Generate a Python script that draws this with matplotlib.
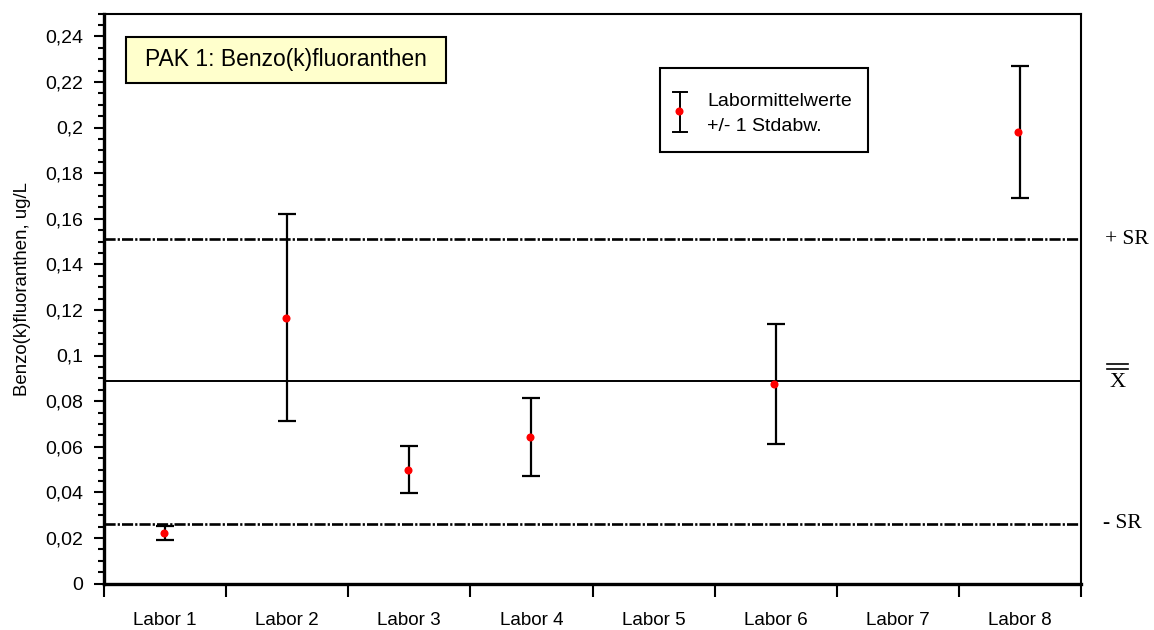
import numpy as np
import matplotlib
matplotlib.use("Agg")
import matplotlib.pyplot as plt
from matplotlib.ticker import MultipleLocator, FixedLocator, FuncFormatter, NullFormatter
from matplotlib.patches import Rectangle
from matplotlib.transforms import blended_transform_factory

plt.rcParams['font.family'] = ['Liberation Sans', 'DejaVu Sans']
plt.rcParams['lines.scale_dashes'] = False

# Laboratory means and standard deviations (ug/L); Labor 5 and 7 reported no value
labs = ["Labor 1", "Labor 2", "Labor 3", "Labor 4", "Labor 5", "Labor 6", "Labor 7", "Labor 8"]
lab_means = [0.0221, 0.1166, 0.0500, 0.0643, np.nan, 0.0876, np.nan, 0.1980]
lab_sd = [0.0030, 0.0453, 0.0101, 0.0172, np.nan, 0.0263, np.nan, 0.0290]

# Overall mean and reproducibility limits
grand_mean = 0.0889
sr_upper = 0.1510
sr_lower = 0.0262

title_text = "PAK 1: Benzo(k)fluoranthen"
y_label = "Benzo(k)fluoranthen, ug/L"

W, H = 1154, 630
fig = plt.figure(figsize=(W / 100, H / 100), dpi=100)
ax = fig.add_axes([104 / W, 46.5 / H, 977 / W, 570 / H])

x = np.arange(len(labs))
ax.set_xlim(-0.5, len(labs) - 0.5)
ax.set_ylim(0, 0.25)

# Reference lines
ax.axhline(grand_mean, color='black', lw=1.4, zorder=2)
dash = (0, (8, 1.5, 1.6, 1.5))
ax.axhline(sr_upper, color='black', lw=1.9, linestyle=dash, zorder=2)
ax.axhline(sr_lower, color='black', lw=1.9, linestyle=dash, zorder=2)

# Laboratory means with +/- 1 SD
ax.errorbar(x, lab_means, yerr=lab_sd, fmt='none', ecolor='black', elinewidth=1.6,
            capsize=6.5, capthick=1.6, zorder=3)
ax.plot(x - 0.012, lab_means, 'o', color='red', markersize=5.8, markeredgewidth=0, zorder=4)

# Axes styling
for side in ['left', 'bottom']:
    ax.spines[side].set_linewidth(2.4)
for side in ['top', 'right']:
    ax.spines[side].set_linewidth(1.5)

ax.yaxis.set_major_locator(FixedLocator(np.round(np.arange(0, 0.2401, 0.02), 2)))
ax.yaxis.set_minor_locator(MultipleLocator(0.005))
ax.yaxis.set_major_formatter(FuncFormatter(lambda v, p: f"{round(v, 2):g}".replace('.', ',')))
ax.tick_params(axis='y', which='major', length=7, width=1.5, labelsize=14, pad=8, direction='out')
ax.tick_params(axis='y', which='minor', length=4, width=1.5, direction='out')

ax.xaxis.set_major_locator(FixedLocator(np.arange(-0.5, len(labs), 1.0)))
ax.xaxis.set_major_formatter(NullFormatter())
ax.xaxis.set_minor_locator(FixedLocator(x))
ax.set_xticks(x, labs, minor=True)
ax.tick_params(axis='x', which='major', length=9, width=1.5, direction='out')
ax.tick_params(axis='x', which='minor', length=0, labelsize=13.6, pad=20.5)

ax.set_ylabel(y_label, fontsize=13.4)
ax.yaxis.set_label_coords(-0.0747, 0.517)

# Right-hand labels for the reference lines
bt = blended_transform_factory(ax.transAxes, ax.transData)
serif = ['Liberation Serif', 'DejaVu Serif']
ax.text(1.0246, sr_upper, "+ SR", transform=bt, ha='left', va='center', fontsize=15.5,
        family=serif, clip_on=False)
ax.text(1.0225, sr_lower, "- SR", transform=bt, ha='left', va='center', fontsize=15.5,
        family=serif, clip_on=False)
ax.text(1.0374, grand_mean - 0.0006, "X", transform=bt, ha='center', va='center', fontsize=16,
        family=serif, clip_on=False)
for yy in (0.0961, 0.0942):
    ax.plot([1.0266, 1.0481], [yy, yy], color='black', lw=1.2, transform=bt, clip_on=False)

# Title box
t = ax.text(0.042, 0.9185, title_text, transform=ax.transAxes, ha='left', va='center',
            fontsize=16.5, zorder=6)
fig.canvas.draw()
bb = t.get_window_extent().transformed(ax.transAxes.inverted())
x0, x1 = 0.0222, bb.x1 + (0.042 - 0.0222)
ax.add_patch(Rectangle((x0, 0.8775), x1 - x0, 0.9593 - 0.8775, transform=ax.transAxes,
                       facecolor='#FFFFCC', edgecolor='black', lw=1.5, zorder=5))

# Legend box
ax.add_patch(Rectangle((0.569, 0.757), 0.782 - 0.569, 0.9044 - 0.757, transform=ax.transAxes,
                       facecolor='white', edgecolor='black', lw=1.5, zorder=5))
lx, cw = 0.5896, 0.0069
ax.plot([lx, lx], [0.7921, 0.8623], color='black', lw=1.4, transform=ax.transAxes, zorder=6)
for yy in (0.7921, 0.8623):
    ax.plot([lx - cw, lx + cw], [yy, yy], color='black', lw=1.4, transform=ax.transAxes, zorder=6)
ax.plot([lx - 0.0011], [0.8295], 'o', color='red', markersize=5.8, markeredgewidth=0,
        transform=ax.transAxes, zorder=7)
ax.text(0.6172, 0.8453, "Labormittelwerte", transform=ax.transAxes, ha='left', va='center',
        fontsize=14, zorder=7)
ax.text(0.6172, 0.8014, "+/- 1 Stdabw.", transform=ax.transAxes, ha='left', va='center',
        fontsize=14, zorder=7)

fig.savefig("out.png", dpi=100)
